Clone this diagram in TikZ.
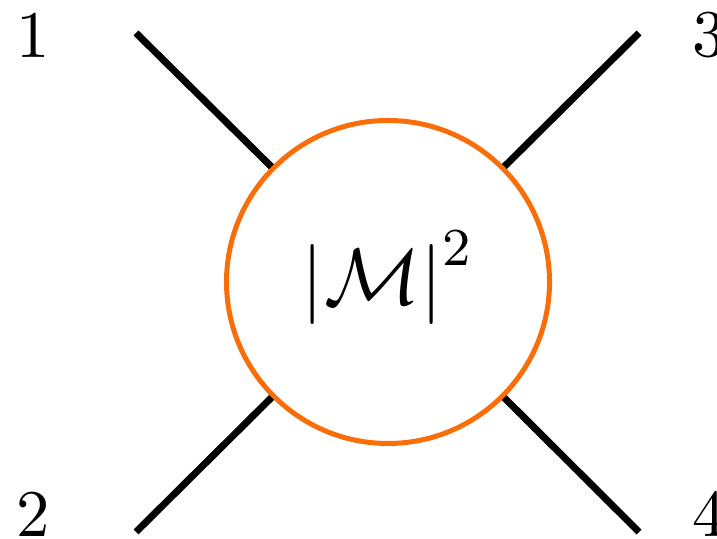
\documentclass[tikz,border=0pt]{standalone}
\usepackage{amsmath}
\definecolor{ampor}{RGB}{250,110,10}
\begin{document}
\begin{tikzpicture}[x=0.15pt,y=-0.15pt,
  leg/.style={line width=1.05pt,black},
  blob/.style={circle,draw=ampor,line width=0.75pt,minimum size=323*0.15pt,inner sep=0pt},
  lab/.style={inner sep=0pt}]
\useasboundingbox (0,0) rectangle (717,539);
\node[blob] (m) at (388,282) {};
\node[lab,font=\large] at (388,278) {$\left|\mathcal{M}\right|^2$};
\coordinate (p1) at (136,33);
\coordinate (p2) at (136,532);
\coordinate (p3) at (639,33);
\coordinate (p4) at (639,532);
\draw[leg] (p1) -- (m);
\draw[leg] (p2) -- (m);
\draw[leg] (p3) -- (m);
\draw[leg] (p4) -- (m);
\node[lab] (l1) at (33,35) {1};
\node[lab] (l2) at (33,514) {2};
\node[lab] (l3) at (709,35) {3};
\node[lab] (l4) at (709,514) {4};
\end{tikzpicture}
\end{document}
